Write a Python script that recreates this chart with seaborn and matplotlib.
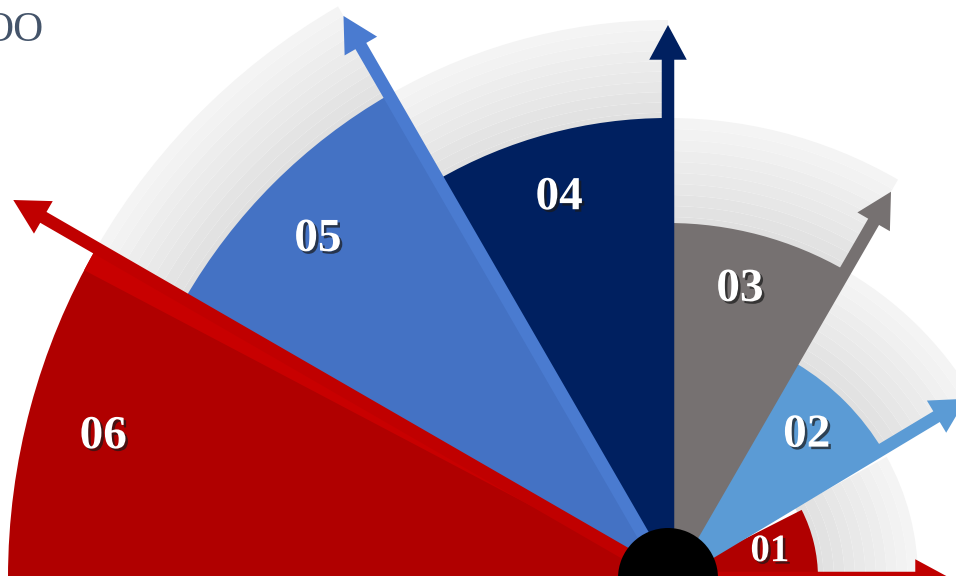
import numpy as np
import matplotlib
matplotlib.use("Agg")
import matplotlib.pyplot as plt
import matplotlib.patheffects as pe
import matplotlib.colors as mcolors
import seaborn as sns

# ---- data ----
labels = ["01", "02", "03", "04", "05", "06"]
start_deg = [0, 30.5, 60, 90, 120, 150]
end_deg = [27, 59, 90, 120, 150, 180]
arrow_deg = [0, 31, 60, 90, 120, 150]
radius = [150, 250, 355, 460, 558, 660]
arrow_len = [282, 348, 446, 553, 649, 756]
colors = ["#b00000", "#5b9bd5", "#767171", "#002060", "#4472c4", "#b00000"]
arrow_colors = ["#c00000", "#5b9bd5", "#767171", "#002060", "#4a7bd0", "#c00000"]
title_text = "OO"

sns.set_theme(style="white")
plt.rcParams["font.family"] = ["Liberation Serif", "DejaVu Serif"]

W, H = 956, 576
cx, cy = 668, -2
R = 800
fig = plt.figure(figsize=(W / 100, H / 100), dpi=100)
fig.patch.set_facecolor("white")
ax = fig.add_axes([(cx - R) / W, (cy - R) / H, 2 * R / W, 2 * R / H], projection="polar")
ax.set_ylim(0, R)
ax.set_axis_off()

# gray tracks behind each wedge (gradient outward)
c_in = np.array(mcolors.to_rgb("#e0e0e0"))
c_out = np.array(mcolors.to_rgb("#f4f4f4"))
nsteps = 10
for i in range(len(labels) - 1):
    r0, r1 = radius[i], radius[i + 1]
    t0 = np.deg2rad(min(start_deg[i], arrow_deg[i]))
    w = np.deg2rad(end_deg[i] - min(start_deg[i], arrow_deg[i]) + 2)
    edges = np.linspace(r0 - 5, r1, nsteps + 1)
    for k in range(nsteps):
        f = k / (nsteps - 1)
        col = c_in * (1 - f) + c_out * f
        ax.bar(t0, edges[k + 1] - edges[k], width=w, bottom=edges[k], align="edge",
               color=col, linewidth=0, zorder=1)

# wedges
for i in range(len(labels)):
    t0 = np.deg2rad(start_deg[i])
    w = np.deg2rad(end_deg[i] - start_deg[i])
    ax.bar(t0, radius[i], width=w, bottom=0, align="edge", color=colors[i],
           linewidth=0, zorder=2 + i * 0.01)

# highlight strip on 06 upper edge
ax.bar(np.deg2rad(start_deg[5]), radius[5], width=np.deg2rad(2.2), bottom=0, align="edge",
       color="#c80000", linewidth=0, zorder=2.2)

# arrows along each wedge's starting edge
for i in range(len(labels)):
    th = np.deg2rad(arrow_deg[i])
    ax.annotate("", xy=(th, arrow_len[i]), xytext=(th, 0),
                arrowprops=dict(arrowstyle="simple,head_length=2.5,head_width=2.7,tail_width=0.9",
                                mutation_scale=10, color=arrow_colors[i], lw=0,
                                shrinkA=0, shrinkB=0),
                zorder=3)

# labels
for i in range(len(labels)):
    mid = np.deg2rad((start_deg[i] + end_deg[i]) / 2 + 1)
    rl = radius[i] - (35 + 0.065 * radius[i])
    fs = 28 if i == 0 else 34
    ax.text(mid, rl, labels[i], ha="center", va="center", color="white",
            fontsize=fs, fontweight="bold", family="Liberation Serif", zorder=5,
            path_effects=[pe.withSimplePatchShadow(offset=(1.8, -1.8), shadow_rgbFace="#1a1a1a", alpha=0.7)])

# black hub
ax.bar(0, 50, width=2 * np.pi, bottom=0, color="black", linewidth=0, zorder=6)

# title fragment
fig.text(-17 / W, (H - 41) / H, title_text, fontsize=30, color="#44546a",
         family="Liberation Serif", va="baseline", ha="left")

fig.savefig("out.png", dpi=100)
